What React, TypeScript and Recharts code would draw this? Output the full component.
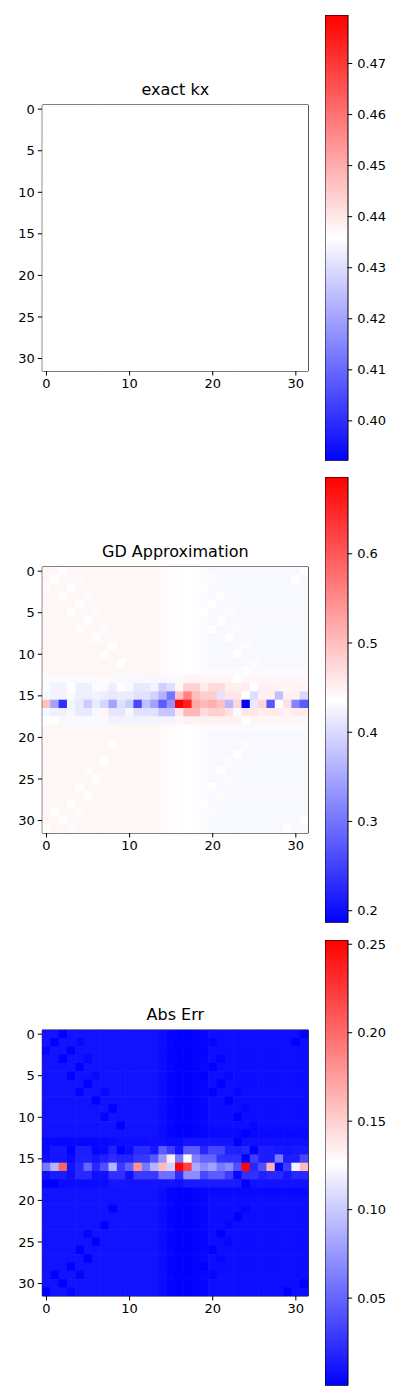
import { ScatterChart, Scatter, XAxis, YAxis, ReferenceArea, BarChart, Bar } from 'recharts'

// GD approximation of kx on the 32x32 grid, in thousandths
const gdRows: number[][] = [
  [445,445,436,445,445,445,445,445,445,445,445,445,445,445,442,439,437,436,434,432,429,429,429,429,429,429,429,429,429,429,429,436],
  [445,436,445,445,431,445,445,445,445,445,445,445,445,445,442,439,437,436,434,432,439,429,429,429,429,429,429,429,429,429,436,429],
  [440,445,445,436,445,445,445,445,445,445,445,445,445,445,442,439,437,436,434,438,429,429,429,429,429,429,429,429,429,429,429,429],
  [445,445,436,445,445,431,445,445,445,445,445,445,445,445,442,439,437,436,434,432,429,439,429,429,429,429,429,429,429,429,429,429],
  [445,445,445,445,436,445,445,445,445,445,445,445,445,445,442,439,437,436,434,432,436,429,429,429,429,429,429,429,429,429,429,429],
  [445,445,445,436,445,445,431,445,445,445,445,445,445,445,442,439,437,436,434,436,429,429,440,429,429,429,429,429,429,429,429,429],
  [445,445,445,445,445,436,445,445,445,445,445,445,445,445,442,439,437,436,434,432,429,436,429,429,429,429,429,429,429,429,429,429],
  [445,445,445,445,438,445,445,431,445,445,445,445,445,445,442,439,437,436,434,432,436,429,429,440,429,429,429,429,429,429,429,429],
  [445,445,445,445,445,445,436,445,445,445,445,445,445,445,442,439,437,436,434,432,429,429,436,429,429,429,429,429,429,429,429,429],
  [445,445,445,445,445,445,445,445,436,445,445,445,445,445,442,439,437,436,434,432,429,429,429,429,440,429,429,429,429,429,429,429],
  [445,445,445,445,445,445,445,438,445,445,445,445,445,445,442,439,437,436,434,432,429,429,429,436,429,429,429,429,429,429,429,429],
  [445,445,445,445,445,445,445,445,445,436,445,445,445,445,442,439,437,436,434,432,429,429,429,429,429,440,429,429,429,429,429,429],
  [445,445,445,445,445,445,445,445,445,445,445,445,445,445,442,439,437,436,434,432,431,431,431,431,436,431,431,431,431,431,431,431],
  [432,432,432,432,432,432,432,440,430,429,429,429,429,428,428,430,441,446,446,446,446,446,446,436,444,444,444,444,444,444,444,444],
  [431,425,425,436,421,421,433,432,420,436,430,414,414,425,390,405,445,481,481,455,471,471,452,452,455,436,450,450,447,445,448,448],
  [428,425,425,431,420,420,425,420,414,418,418,408,408,392,360,300,496,560,500,485,485,410,460,460,436,405,450,450,375,450,450,400],
  [496,346,232,426,416,386,416,396,346,406,386,256,376,346,276,331,686,656,521,506,516,496,366,476,186,416,476,271,436,466,316,276],
  [428,422,422,428,416,416,428,444,412,412,428,406,406,408,380,380,458,506,506,472,482,482,466,432,460,460,452,456,456,447,456,456],
  [436,436,430,430,430,430,430,430,425,425,426,426,426,426,426,426,444,449,449,449,449,449,449,449,436,445,445,445,445,445,445,445],
  [445,445,445,445,445,445,445,445,445,445,445,445,445,445,442,439,437,436,434,432,431,431,431,431,431,431,431,431,431,431,431,431],
  [445,445,445,445,445,445,445,445,445,445,445,445,445,445,442,439,437,436,434,432,429,429,429,429,429,429,429,429,429,429,429,429],
  [445,445,445,445,445,445,445,445,436,445,445,445,445,445,442,439,437,436,434,432,429,429,429,429,440,429,429,429,429,429,429,429],
  [445,445,445,445,445,445,445,445,445,445,445,445,445,445,442,439,437,436,434,432,429,429,429,436,429,429,429,429,429,429,429,429],
  [445,445,445,445,445,445,445,436,445,445,445,445,445,445,442,439,437,436,434,432,429,429,440,429,429,429,429,429,429,429,429,429],
  [445,445,445,445,445,439,445,445,445,445,445,445,445,445,442,439,437,436,434,432,429,436,429,429,429,429,429,429,429,429,429,429],
  [445,445,445,445,445,445,436,445,445,445,445,445,445,445,442,439,437,436,434,432,429,429,440,429,429,429,429,429,429,429,429,429],
  [445,445,445,445,436,445,445,445,445,445,445,445,445,445,442,439,437,436,434,432,436,429,429,429,429,429,429,429,429,429,429,429],
  [445,445,445,445,445,436,445,445,445,445,445,445,445,445,442,439,437,436,434,432,429,440,429,429,429,429,429,429,429,429,429,429],
  [445,445,445,436,445,445,445,445,445,445,445,445,445,445,442,439,437,436,434,436,429,429,429,429,429,429,429,429,429,429,429,429],
  [445,436,445,445,439,445,445,445,445,445,445,445,445,445,442,439,437,436,434,432,440,429,429,429,429,429,429,429,429,429,429,429],
  [445,445,436,445,445,445,445,445,445,445,445,445,445,445,442,439,437,436,434,432,429,429,429,429,429,429,429,429,429,429,429,436],
  [436,445,445,431,445,445,445,445,445,445,445,445,445,445,442,439,437,436,434,440,429,429,429,429,429,429,429,429,429,436,429,429],
]

// exact kx is flat: every cell reads the same value (thousandths)
const EXACT_KX = 435.8

// colour-bar limits and ticks
const exactRange = [0.3922, 0.4795]
const exactTicks = [0.40, 0.41, 0.42, 0.43, 0.44, 0.45, 0.46, 0.47]
const gdRange = [0.1866, 0.686]
const gdTicks = [0.2, 0.3, 0.4, 0.5, 0.6]
const errRange = [0.0005, 0.2524]
const errTicks = [0.05, 0.10, 0.15, 0.20, 0.25]

const xTicks = [0, 10, 20, 30]
const yTicks = [0, 5, 10, 15, 20, 25, 30]

const PLOT = 266
const CELL = PLOT / 32
const FONT = '"DejaVu Sans", sans-serif'

function bwr(t: number) {
  const u = Math.max(0, Math.min(1, t))
  let r, g, b
  if (u < 0.5) { r = g = Math.round(2 * u * 255); b = 255 }
  else { r = 255; g = b = Math.round((2 - 2 * u) * 255) }
  return `rgb(${r},${g},${b})`
}

type CellPt = { x: number; y: number; v: number }

const exactCells: CellPt[] = []
const gdCells: CellPt[] = []
const errCells: CellPt[] = []
gdRows.forEach((row, i) => row.forEach((g, j) => {
  exactCells.push({ x: j, y: i, v: EXACT_KX / 1000 })
  gdCells.push({ x: j, y: i, v: g / 1000 })
  errCells.push({ x: j, y: i, v: Math.abs(g - EXACT_KX) / 1000 })
}))

function Heatmap({ top, title, cells, range }: { top: number; title: string; cells: CellPt[]; range: number[] }) {
  const [lo, hi] = range
  const shape = (props: any) => {
    const s = CELL + 0.6
    return <rect x={props.cx - s / 2} y={props.cy - s / 2} width={s} height={s} fill={bwr((props.payload.v - lo) / (hi - lo))} />
  }
  return (
    <>
      <div style={{ position: 'absolute', left: 42.3, top: top + 30 - 27, width: PLOT, textAlign: 'center', fontSize: 16, lineHeight: '24px', fontFamily: FONT }}>
        {title}
      </div>
      <div style={{ position: 'absolute', left: 0, top }}>
        <ScatterChart width={320} height={30 + PLOT + 30} margin={{ top: 30, right: 320 - 42.3 - PLOT, bottom: 0, left: 0 }}>
          <XAxis type="number" dataKey="x" domain={[-0.5, 31.5]} ticks={xTicks} allowDataOverflow height={30}
            axisLine={false} tickSize={4.5} tickMargin={3} stroke="#000" tick={{ fill: '#000', fontSize: 13 }} />
          <YAxis type="number" dataKey="y" domain={[-0.5, 31.5]} ticks={yTicks} allowDataOverflow reversed width={42.3}
            axisLine={false} tickSize={4.5} tickMargin={3} stroke="#000" tick={{ fill: '#000', fontSize: 13 }} />
          <Scatter data={cells} shape={shape} isAnimationActive={false} />
          <ReferenceArea x1={-0.5} x2={31.5} y1={-0.5} y2={31.5} fill="none" fillOpacity={0} stroke="#000" strokeWidth={1} ifOverflow="visible" />
        </ScatterChart>
      </div>
    </>
  )
}

function ColorBar({ top, id, range, ticks, digits }: { top: number; id: string; range: number[]; ticks: number[]; digits: number }) {
  const h = 445.7
  return (
    <div style={{ position: 'absolute', left: 325, top: top - 10 }}>
      <BarChart width={75} height={h + 20} data={[{ k: 'cb', span: range }]} margin={{ top: 10, right: 0, bottom: 10, left: 0 }} barCategoryGap={0}>
        <defs>
          <linearGradient id={id} x1="0" y1="0" x2="0" y2="1">
            <stop offset="0%" stopColor="#ff0000" />
            <stop offset="50%" stopColor="#ffffff" />
            <stop offset="100%" stopColor="#0000ff" />
          </linearGradient>
        </defs>
        <XAxis dataKey="k" hide />
        <YAxis orientation="right" type="number" domain={range} ticks={ticks} allowDataOverflow width={52.3}
          axisLine={false} tickSize={4.5} tickMargin={5} stroke="#000" tick={{ fill: '#000', fontSize: 13 }}
          tickFormatter={(v: number) => v.toFixed(digits)} />
        <Bar dataKey="span" fill={`url(#${id})`} stroke="#000" strokeWidth={1} isAnimationActive={false} />
      </BarChart>
    </div>
  )
}

export default function App() {
  const step = 462.3
  return (
    <div style={{ position: 'absolute', left: 0, top: 0, width: 400, height: 1400, background: '#fff', fontFamily: FONT }}>
      <Heatmap top={75} title="exact kx" cells={exactCells} range={exactRange} />
      <ColorBar top={15} id="cb1" range={exactRange} ticks={exactTicks} digits={2} />
      <Heatmap top={75 + step} title="GD Approximation" cells={gdCells} range={gdRange} />
      <ColorBar top={15 + step} id="cb2" range={gdRange} ticks={gdTicks} digits={1} />
      <Heatmap top={75 + 2 * step} title="Abs Err" cells={errCells} range={errRange} />
      <ColorBar top={15 + 2 * step} id="cb3" range={errRange} ticks={errTicks} digits={2} />
    </div>
  )
}
